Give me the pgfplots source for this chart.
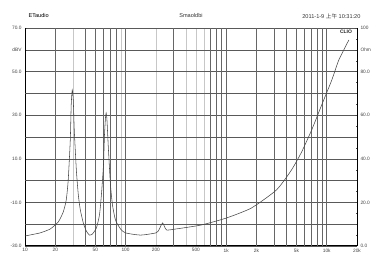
\documentclass[border=0pt]{standalone}
\usepackage{fontspec}
\setmainfont{Liberation Sans}
\newfontfamily\cjk{Noto Sans CJK SC}
\usepackage{pgfplots}
\usepackage{pgfplotstable}
\pgfplotsset{compat=1.18}
\pgfplotstableread{
f db
10 -25.4
14.1 -24.0
17.8 -22.2
21.4 -19.0
24.0 -14.4
25.7 -8.9
26.9 0.3
28.2 18.6
28.8 34.7
29.5 41.6
30.2 37.0
30.9 23.2
32.4 4.9
33.9 -6.6
35.5 -13.5
38.0 -19.4
40.7 -23.1
43.7 -25.0
46.8 -24.5
51.3 -21.7
55.0 -15.8
57.5 -6.6
60.3 7.2
61.7 20.9
63.1 28.7
64.1 31.0
65.3 27.8
67.6 14.0
70.8 -2.0
74.1 -11.2
79.4 -18.1
89.1 -22.2
100 -24.0
141 -25.0
200 -24.0
214 -22.7
224 -20.8
234 -19.4
245 -21.3
257 -22.7
316 -22.2
562 -20.4
1000 -17.2
1778 -12.6
3162 -4.3
4467 4.9
5623 13.1
7079 23.2
8913 34.7
11220 46.1
13183 55.3
16596 64.5
}\curve
\begin{document}
\begin{tikzpicture}
\begin{axis}[
  at={(25pt,11pt)}, anchor=south west,
  scale only axis, width=332pt, height=218pt,
  xmode=log, xmin=10, xmax=20000, ymin=-30, ymax=70,
  axis x line*=bottom, axis y line*=left,
  x axis line style={line width=1pt, black},
  y axis line style={line width=0.4pt, black},
  xtick={10,20,50,100,200,500,1000,2000,5000,10000,20000},
  xticklabels={10,20,50,100,200,500,1k,2k,5k,10k,20k},
  xtick style={draw=none},
  extra x ticks={20,40,50,60,70,80,100,300,700,800,900,1000,2000,3000,4000,5000,6000,7000,8000,9000,10000},
  extra x tick labels={},
  extra x tick style={grid=major, major grid style={black!60, line width=0.5pt}, tick style={draw=none}},
  minor xtick={30,90,200,400,500,600},
  xminorgrids, minor grid style={black!22, line width=0.4pt},
  ytick={-30,-10,10,30,50,60,70},
  yticklabels={-30.0,-10.0,10.0,30.0,50.0,dBV,70.0},
  ymajorgrids, major grid style={black!65, line width=0.5pt},
  extra y ticks={-20,0,20,40},
  extra y tick labels={},
  extra y tick style={grid=major},
  minor ytick={-27.5,-25,-22.5,-17.5,-15,-12.5,-7.5,-5,-2.5,2.5,5,7.5,12.5,15,17.5,22.5,25,27.5,32.5,35,37.5,42.5,45,47.5,52.5,55,57.5,62.5,65,67.5},
  tick align=inside, major tick length=2pt, minor tick length=1.2pt,
  tick style={black!70, line width=0.3pt},
  ticklabel style={font=\fontsize{4.8}{5}\selectfont, text=black!75},
  xticklabel style={yshift=1pt},
  clip=false,
]
\addplot[black!72, line width=0.55pt, smooth, tension=0.35] table[x=f, y=db] {\curve};
\node[font=\bfseries\fontsize{5}{6}\selectfont, text=black!85] at (rel axis cs:0.967,0.983) {CLIO};
\end{axis}
\begin{axis}[
  at={(25pt,11pt)}, anchor=south west,
  scale only axis, width=332pt, height=218pt,
  xmode=log, xmin=10, xmax=20000, ymin=0, ymax=100,
  axis x line=none, axis y line*=right,
  y axis line style={line width=1pt, black},
  ytick={0,20,40,60,80,90,100},
  yticklabels={0.0,20.0,40.0,60.0,80.0,Ohm,100},
  minor ytick={5,10,15,25,30,35,45,50,55,65,70,75,85,95},
  tick align=inside, major tick length=2pt, minor tick length=1.2pt,
  tick style={black!70, line width=0.3pt},
  yticklabel style={font=\fontsize{4.8}{5}\selectfont, text=black!75, anchor=west},
]
\end{axis}
\node[anchor=west, font=\fontsize{5.6}{6}\selectfont] at (25pt,241pt) {ETaudio};
\node[font=\fontsize{5.6}{6}\selectfont, text=black!80] at (191pt,241pt) {Smaoldbi};
\node[anchor=east, font=\fontsize{5.6}{6}\selectfont, text=black!80] at (364pt,241pt) {2011-1-9 {\cjk 上午} 10:31:20};
\pgfresetboundingbox
\path[use as bounding box] (0,0) rectangle (376pt,257pt);
\end{tikzpicture}
\end{document}
